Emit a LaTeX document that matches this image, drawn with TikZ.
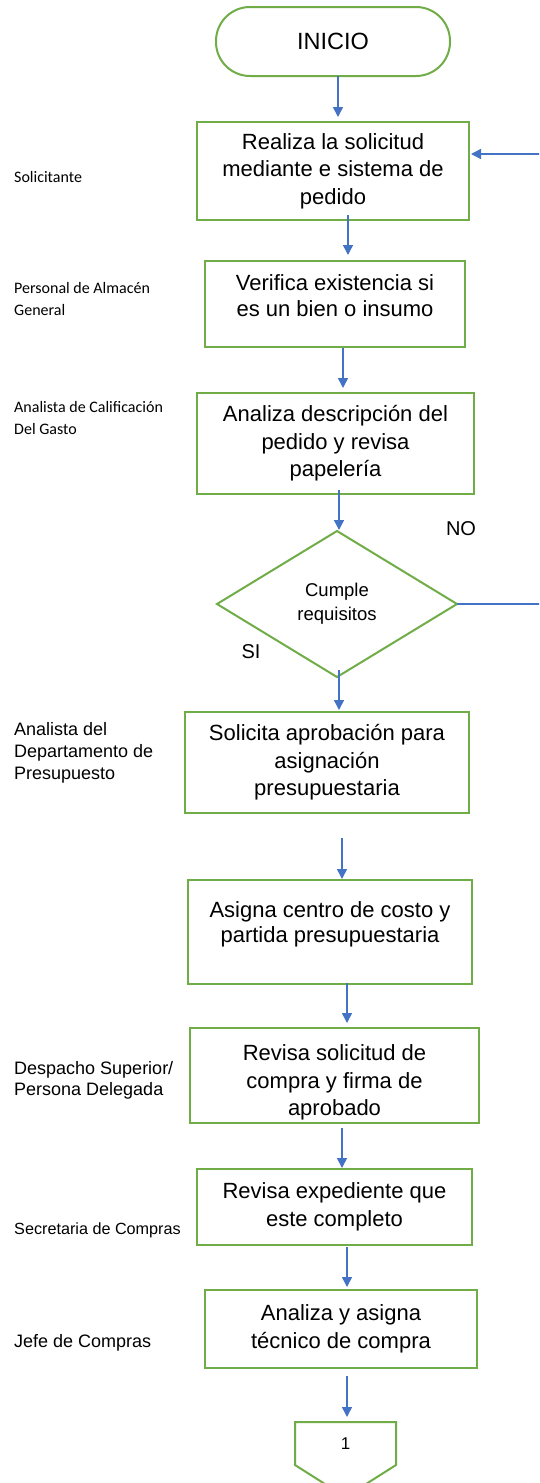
\documentclass[tikz,border=0pt]{standalone}
\usepackage{fontspec}
\setmainfont{Liberation Sans}
\newfontfamily\calibfont{Carlito}
\usetikzlibrary{shapes.geometric,arrows.meta}
\definecolor{boxgreen}{HTML}{70AD47}
\definecolor{arrowblue}{HTML}{4472C4}
\tikzset{
  box/.style={draw=boxgreen, line width=2pt, rectangle, inner sep=0pt, outer sep=0pt,
    align=center, font=\fontsize{22}{27.5}\selectfont},
  term/.style={box, rounded corners=34pt, font=\fontsize{23.5}{28}\selectfont},
  decision/.style={draw=boxgreen, line width=2pt, diamond, inner sep=0pt, outer sep=0pt,
    align=center, font=\fontsize{18.5}{24}\selectfont},
  arr/.style={draw=arrowblue, line width=1.5pt, -{Triangle[width=10pt,length=10pt]}},
  role/.style={anchor=west, align=left, inner sep=0pt, font=\fontsize{18}{22}\selectfont},
  rolec/.style={anchor=west, align=left, inner sep=0pt, font=\calibfont\fontsize{16}{22}\selectfont},
  lbl/.style={inner sep=0pt, font=\fontsize{20}{24}\selectfont},
}
\begin{document}
\begin{tikzpicture}[x=1pt,y=-1pt]
\useasboundingbox[fill=white] (0,0) rectangle (539,1483);
\clip (0,0) rectangle (539,1483);

% flow nodes
\node[term, minimum width=234pt, minimum height=69pt] (ini) at (333,41.5) {INICIO};
\node[box, minimum width=272pt, minimum height=98pt] (b1) at (333,171)
  {Realiza la solicitud\\mediante e sistema de\\pedido};
\node[box, minimum width=260pt, minimum height=86pt, font=\fontsize{22}{25.5}\selectfont] (b2) at (335,304)
  {Verifica existencia si\\es un bien o insumo\\[-9pt]\mbox{}};
\node[box, minimum width=277pt, minimum height=101pt] (b3) at (335.5,443.5)
  {Analiza descripción del\\pedido y revisa\\papelería};
\node[decision, minimum width=240pt, minimum height=146pt] (dia) at (337,604)
  {Cumple\\requisitos};
\node[box, minimum width=284pt, minimum height=101pt] (b4) at (327,762.5)
  {Solicita aprobación para\\asignación\\presupuestaria};
\node[box, minimum width=284pt, minimum height=104pt, font=\fontsize{22}{25.5}\selectfont] (b5) at (330,932)
  {Asigna centro de costo y\\partida presupuestaria\\[-6pt]\mbox{}};
\node[box, minimum width=289pt, minimum height=95pt] (b6) at (334.5,1075.5)
  {\mbox{}\\[2.5pt]Revisa solicitud de\\compra y firma de\\aprobado};
\node[box, minimum width=275pt, minimum height=76pt] (b7) at (334.5,1207)
  {Revisa expediente que\\este completo};
\node[box, minimum width=272pt, minimum height=78pt] (b8) at (341,1329)
  {Analiza y asigna\\técnico de compra};
\node[inner sep=0pt, outer sep=0pt, minimum width=101pt, minimum height=43pt,
  font=\fontsize{17}{20}\selectfont] (conn) at (345.5,1443.5) {1};
\draw[boxgreen, line width=2pt] (conn.north west) -- (conn.north east) -- (conn.south east)
  -- ([yshift=-32pt]conn.south) -- (conn.south west) -- cycle;

% decision labels
\node[lbl] (no) at (461,529) {NO};
\node[lbl] (si) at (251,652) {SI};

% role labels
\node[rolec] (r1) at (14,177) {Solicitante};
\node[rolec] (r2) at (14,299) {Personal de Almacén\\General};
\node[rolec] (r3) at (14,418) {Analista de Calificación\\Del Gasto};
\node[role] (r4) at (14,752.5) {Analista del\\Departamento de\\Presupuesto};
\node[role, font=\fontsize{18}{21}\selectfont] (r5) at (14,1080.5) {Despacho Superior/\\Persona Delegada};
\node[role, font=\fontsize{16.2}{20}\selectfont] (r6) at (14,1230) {Secretaria de Compras};
\node[role] (r7) at (14,1343) {Jefe de Compras};

% connectors
\draw[arr] ([xshift=5pt]ini.south) -- ([xshift=5pt,yshift=5pt]b1.north);
\draw[arr] ([xshift=15pt,yshift=5pt]b1.south) -- ([xshift=13pt,yshift=6pt]b2.north);
\draw[arr] ([xshift=8pt,yshift=-1pt]b2.south) -- ([xshift=7.5pt,yshift=5pt]b3.north);
\draw[arr] ([xshift=3.5pt,yshift=4pt]b3.south) -- ([xshift=2pt,yshift=1pt]dia.north);
\draw[arr] ([xshift=2pt,yshift=7pt]dia.south) -- ([xshift=12pt,yshift=2pt]b4.north);
\draw[arr] ([xshift=15pt,yshift=-25pt]b4.south) -- ([xshift=12pt,yshift=1pt]b5.north);
\draw[arr] ([xshift=17pt,yshift=1pt]b5.south) -- ([xshift=12.5pt,yshift=5pt]b6.north);
\draw[arr] ([xshift=7.5pt,yshift=-5pt]b6.south) -- ([xshift=7.5pt,yshift=1pt]b7.north);
\draw[arr] ([xshift=12.5pt,yshift=-2pt]b7.south) -- ([xshift=6pt,yshift=3pt]b8.north);
\draw[arr] ([xshift=6pt,yshift=-8pt]b8.south) -- ([xshift=1.5pt,yshift=5pt]conn.north);

% NO feedback loop (vertical run lies just beyond the right edge)
\coordinate (rt) at (542,154);
\coordinate (fb) at ([xshift=2pt,yshift=17pt]b1.east);
\draw[arr] (dia.east) -- (dia.east -| rt) -- (rt) -- (fb);
\end{tikzpicture}
\end{document}
